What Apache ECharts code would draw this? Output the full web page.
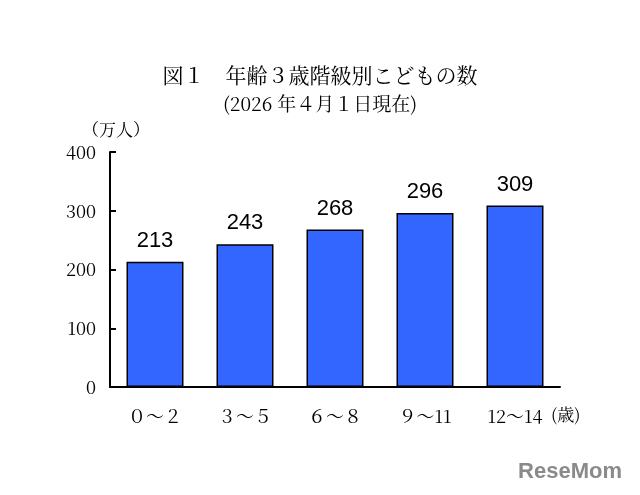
<!DOCTYPE html>
<html lang="ja">
<head>
<meta charset="UTF-8">
<script src="https://cdn.jsdelivr.net/npm/echarts@6/dist/echarts.min.js"></script>
<style>
  body { margin: 0; background: #fff; }
  #chart { width: 640px; height: 495px; }
</style>
</head>
<body>
<div id="chart"></div>
<script>
// 年齢3歳階級別こどもの数（万人）
const categories = ['０～２', '３～５', '６～８', '９～11', '12～14'];
const values = [213, 243, 268, 296, 309];
const yTicks = [0, 100, 200, 300, 400];

const serif = '"Noto Serif CJK JP", "Liberation Serif", "DejaVu Serif", serif';
const chart = echarts.init(document.getElementById('chart'));
chart.setOption({
    animation: false,
    title: {
        text: '図１　年齢３歳階級別こどもの数',
        subtext: '(2026 年４月１日現在)',
        left: 'center',
        top: 60,
        itemGap: 8,
        textStyle: { fontFamily: serif, fontSize: 21, fontWeight: 'normal', color: '#000' },
        subtextStyle: { fontFamily: serif, fontSize: 19, color: '#000' }
    },
    grid: { left: 110, right: 80, top: 152, bottom: 108 },
    xAxis: {
        type: 'category',
        data: categories,
        axisLine: { lineStyle: { color: '#000', width: 2 } },
        axisTick: { show: false },
        axisLabel: { fontFamily: serif, fontSize: 18, color: '#000', margin: 20 }
    },
    yAxis: {
        type: 'value',
        min: yTicks[0],
        max: yTicks[yTicks.length - 1],
        interval: 100,
        name: '（万人）',
        nameLocation: 'end',
        nameGap: 14,
        nameTextStyle: { fontFamily: serif, fontSize: 17, color: '#000', align: 'right', padding: [0, -40, 0, 0] },
        axisLine: { show: true, lineStyle: { color: '#000', width: 2 } },
        axisTick: { show: true, inside: true, length: 6, lineStyle: { color: '#000', width: 2 } },
        splitLine: { show: false },
        axisLabel: { fontFamily: serif, fontSize: 18, color: '#000', margin: 14 }
    },
    series: [{
        type: 'bar',
        data: values,
        barWidth: 57,
        itemStyle: { color: '#3366FF', borderColor: '#000', borderWidth: 1.5 },
        label: {
            show: true,
            position: 'top',
            distance: 10,
            fontFamily: '"Liberation Sans Narrow", Arial, "Liberation Sans", sans-serif',
            fontSize: 22,
            color: '#000'
        }
    }],
    graphic: [
        { type: 'text', left: 551, top: 406, style: { text: '(歳)', fontFamily: serif, fontSize: 17, fill: '#000' } },
        { type: 'text', right: 18, bottom: 12, style: { text: 'ReseMom', fontFamily: '"Liberation Sans", sans-serif', fontWeight: 'bold', fontSize: 22, fill: '#8a8a8a' } }
    ]
});
</script>
</body>
</html>
